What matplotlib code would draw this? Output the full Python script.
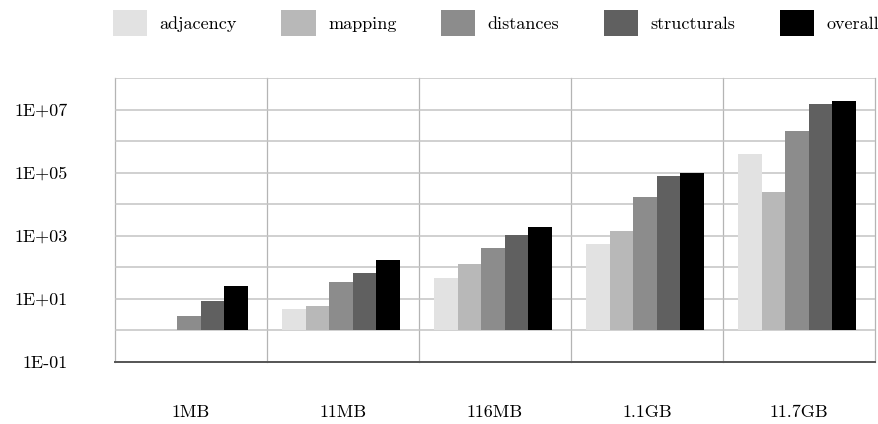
import numpy as np
import matplotlib
matplotlib.use("Agg")
import matplotlib.pyplot as plt

plt.rcParams['font.family'] = ['cmr10', 'DejaVu Serif']
plt.rcParams['axes.formatter.use_mathtext'] = True

categories = ["1MB", "11MB", "116MB", "1.1GB", "11.7GB"]
series_names = ["adjacency", "mapping", "distances", "structurals", "overall"]
adjacency = [np.nan, 4.6, 46, 525, 380000]
mapping = [np.nan, 5.8, 127, 1440, 24000]
distances = [2.8, 34, 400, 17400, 2.1e6]
structurals = [8.3, 63, 1070, 77000, 1.5e7]
overall = [24.5, 170, 1900, 100000, 1.85e7]
colors = ["#e2e2e2", "#b8b8b8", "#8c8c8c", "#606060", "#000000"]
ytick_vals = [0.1, 10, 1e3, 1e5, 1e7]
ytick_labels = ["1E-01", "1E+01", "1E+03", "1E+05", "1E+07"]

series = [adjacency, mapping, distances, structurals, overall]
base = 1.0

fig = plt.figure(figsize=(8.79, 4.24), dpi=100)
ax = fig.add_axes([115/879, 1 - 361.7/424, (875-115)/879, (361.7-78)/424])

x = np.arange(len(categories))
width = 0.155
shift = -0.013
for i, (name, vals, c) in enumerate(zip(series_names, series, colors)):
    v = np.array(vals, dtype=float)
    ax.bar(x + (i - 2) * width + shift, v - base, bottom=base, width=width,
           color=c, label=name, zorder=3, linewidth=0)

ax.set_yscale('log')
ax.set_ylim(0.1, 1e8)
ax.set_xlim(-0.5, len(categories) - 0.5)

decades = [10.0 ** k for k in range(-1, 9)]
ax.set_yticks(decades)
ax.set_yticklabels([ytick_labels[ytick_vals.index(d)] if d in ytick_vals else "" for d in decades])
ax.yaxis.set_minor_locator(matplotlib.ticker.NullLocator())
ax.grid(axis='y', which='major', color='#c4c4c4', linewidth=1.1, zorder=0)

for b in np.arange(-0.5, len(categories)):
    ax.axvline(b, color='#b4b4b4', linewidth=0.9, zorder=1, clip_on=False)

ax.set_xticks(x)
ax.set_xticklabels(categories)
ax.tick_params(axis='both', length=0, labelsize=13, colors='#000000')
ax.tick_params(axis='y', pad=34)
ax.tick_params(axis='x', pad=31)

for s in ['top', 'left', 'right']:
    ax.spines[s].set_visible(False)
ax.spines['bottom'].set_color('#555555')
ax.spines['bottom'].set_linewidth(1.4)
ax.spines['bottom'].set_zorder(4)

handles, labels = ax.get_legend_handles_labels()
fig.legend(handles, labels, loc='upper center', ncol=5, frameon=False,
           bbox_to_anchor=(496/879, 1 - 10/424), fontsize=13,
           handlelength=1.9, handleheight=1.85, handletextpad=0.7,
           columnspacing=2.45, borderpad=0, borderaxespad=0)

fig.savefig("out.png", dpi=100)
